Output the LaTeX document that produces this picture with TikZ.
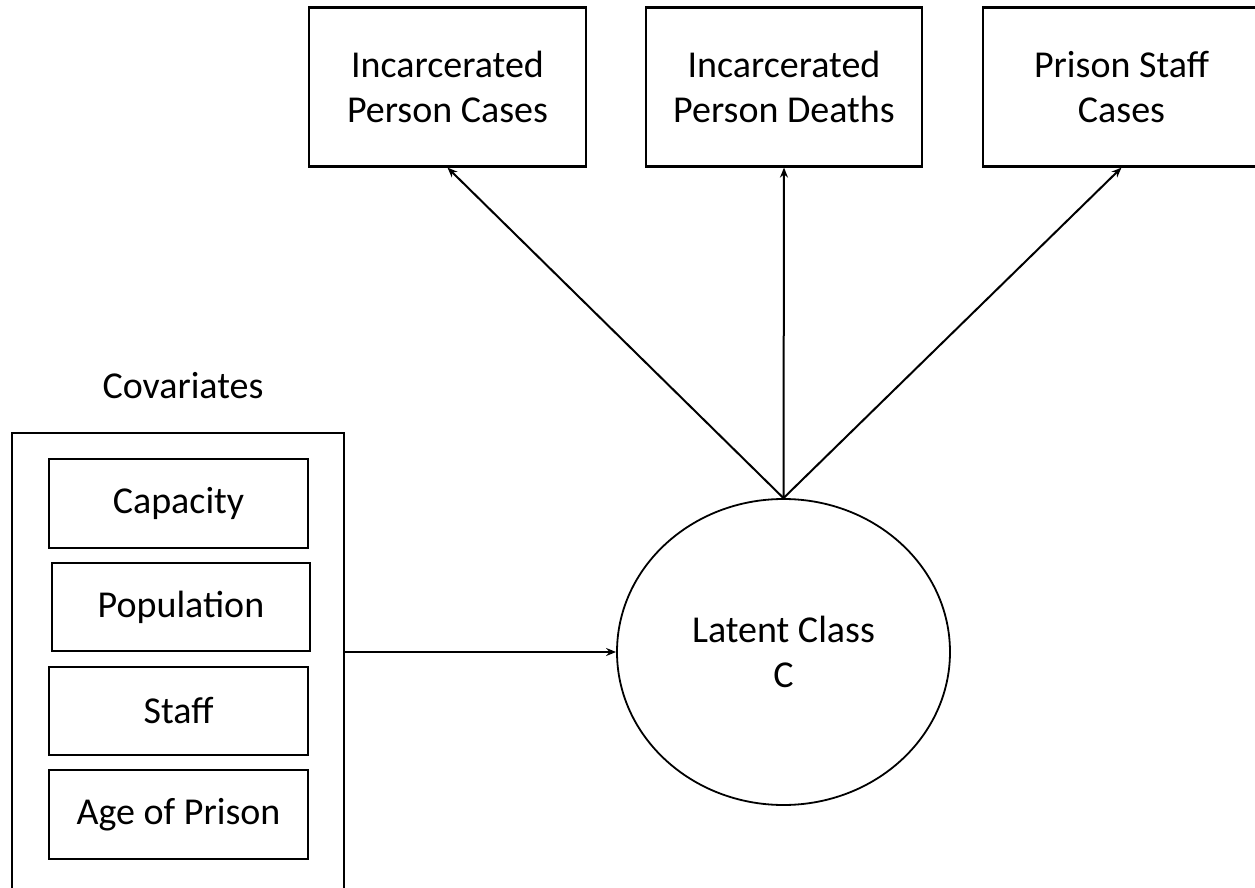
\documentclass[tikz,border=0pt]{standalone}
\usepackage{fontspec}
\setmainfont{Carlito}
\usetikzlibrary{arrows.meta,shapes.geometric}
\begin{document}
\begin{tikzpicture}[x=0.5pt,y=-0.5pt,
  lbl/.style={font=\fontsize{19}{22.5}\selectfont, align=center},
  box/.style={draw, line width=1.1pt, rectangle, inner sep=0pt, lbl},
  arr/.style={line width=1pt, -{Stealth[length=5pt,width=4pt]}}]
\useasboundingbox (0,0) rectangle (1255,888);
\clip (0,0) rectangle (1255,888);
\node[box, minimum width=138.5pt, minimum height=79.5pt] (ipc) at (447.5,87) {Incarcerated\\Person Cases};
\node[box, minimum width=138pt, minimum height=79.5pt] (ipd) at (784,87) {Incarcerated\\Person Deaths};
\node[box, minimum width=138.5pt, minimum height=79.5pt] (psc) at (1121.5,87) {Prison Staff\\Cases};
\node[lbl] (covt) at (183,386) {Covariates};
\node[draw, line width=1.1pt, minimum width=166pt, minimum height=231pt, inner sep=0pt] (cov) at (178,664) {};
\node[box, minimum width=129.5pt, minimum height=44.5pt] (cap) at (178.5,503.5) {Capacity};
\node[box, minimum width=129pt, minimum height=44pt] (pop) at (181,607) {Population};
\node[box, minimum width=129.5pt, minimum height=44pt] (stf) at (178.5,711) {Staff};
\node[box, minimum width=129.5pt, minimum height=44.5pt] (age) at (178.5,814.5) {Age of Prison};
\node[draw, ellipse, line width=0.9pt, minimum width=166.5pt, minimum height=153pt, inner sep=0pt, lbl] (lc) at (783.5,652) {Latent Class\\C};
\draw[arr] (lc.north) -- (ipc.south);
\draw[arr] (lc.north) -- (ipd.south);
\draw[arr] (lc.north) -- (psc.south);
\draw[arr] (cov.east |- lc.west) -- (lc.west);
\end{tikzpicture}
\end{document}
